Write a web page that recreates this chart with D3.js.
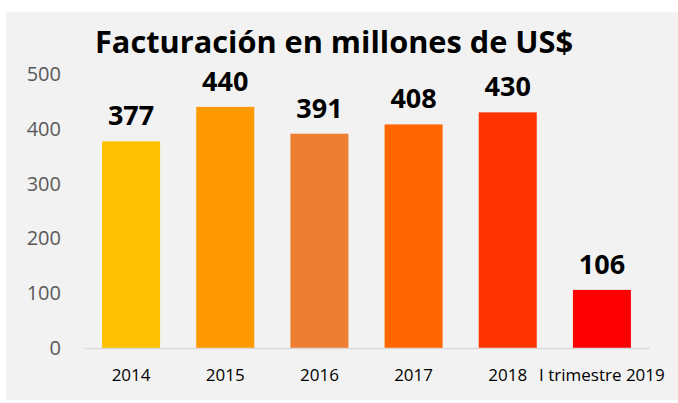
<!DOCTYPE html>
<html>
<head>
<meta charset="utf-8">
<script src="https://cdn.jsdelivr.net/npm/d3@7"></script>
<style>
  html, body { margin: 0; padding: 0; background: #ffffff; }
  svg { display: block; }
  text { font-family: "Open Sans", "Noto Sans", sans-serif; }
</style>
</head>
<body>
<svg id="chart" width="678" height="403"></svg>
<script>
// ---- data ----
const categories = ["2014", "2015", "2016", "2017", "2018", "I trimestre 2019"];
const values = [377, 440, 391, 408, 430, 106];
const barColors = ["#FFC000", "#FF9900", "#ED7D31", "#FF6600", "#FF3300", "#FF0000"];
const yTicks = [0, 100, 200, 300, 400, 500];
const title = "Facturación en millones de US$";

// ---- layout ----
const W = 678, H = 403;
const svg = d3.select("#chart");

svg.append("rect")
  .attr("x", 6).attr("y", 12)
  .attr("width", W - 6).attr("height", 388)
  .attr("fill", "#F2F2F2");

const x = d3.scaleBand()
  .domain(categories)
  .range([84, 649])
  .paddingInner(0.384)
  .paddingOuter(0.192);

const y = d3.scaleLinear()
  .domain([0, 500])
  .range([348, 74]);

// title
svg.append("text")
  .attr("x", 334).attr("y", 53)
  .attr("text-anchor", "middle")
  .attr("font-size", 31)
  .attr("font-weight", "bold")
  .attr("fill", "#000")
  .attr("textLength", 478)
  .attr("lengthAdjust", "spacingAndGlyphs")
  .text(title);

// y axis (labels only)
const yAxis = d3.axisLeft(y).tickValues(yTicks).tickSize(0).tickPadding(0);
const gy = svg.append("g").attr("transform", "translate(61,0)").call(yAxis);
gy.select(".domain").remove();
gy.selectAll("text")
  .attr("font-family", "'Open Sans', sans-serif")
  .attr("font-size", 20)
  .attr("fill", "#595959");

// bars
svg.append("g").selectAll("rect")
  .data(values)
  .join("rect")
  .attr("x", (d, i) => x(categories[i]))
  .attr("y", d => y(d))
  .attr("width", x.bandwidth())
  .attr("height", d => y(0) - y(d))
  .attr("fill", (d, i) => barColors[i]);

// x axis
const xAxis = d3.axisBottom(x).tickSize(0).tickPadding(0);
const gx = svg.append("g").attr("transform", `translate(0,${y(0)})`).call(xAxis);
gx.select(".domain")
  .attr("stroke", "#D9D9D9")
  .attr("stroke-width", 1.5);
gx.selectAll("text")
  .attr("font-family", "'Open Sans', sans-serif")
  .attr("font-size", 17)
  .attr("fill", "#000")
  .attr("dy", null)
  .attr("y", 33);

// value labels
svg.append("g").selectAll("text")
  .data(values)
  .join("text")
  .attr("x", (d, i) => x(categories[i]) + x.bandwidth() / 2)
  .attr("y", d => y(d) - 16)
  .attr("text-anchor", "middle")
  .attr("font-size", 27)
  .attr("font-weight", "bold")
  .attr("fill", "#000")
  .text(d => d);
</script>
</body>
</html>
